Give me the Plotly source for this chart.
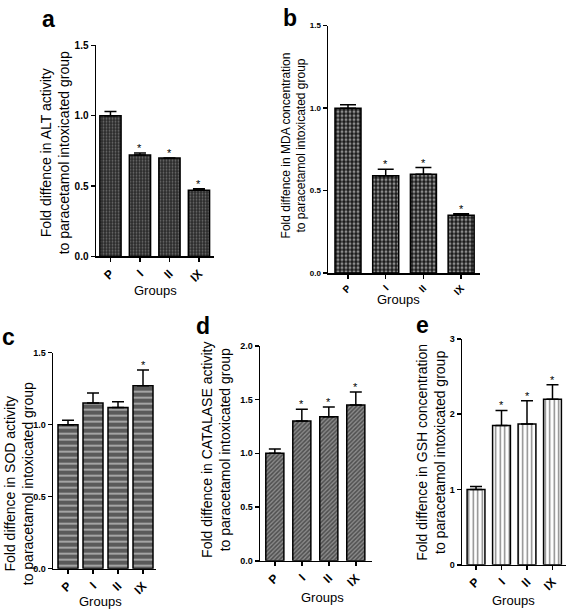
import plotly.graph_objects as go

groups = ["P", "I", "II", "IX"]

alt_vals = [1.00, 0.72, 0.70, 0.47]
alt_err = [0.03, 0.015, 0.0, 0.01]
alt_sig = ["", "*", "*", "*"]

mda_vals = [1.00, 0.59, 0.60, 0.35]
mda_err = [0.02, 0.04, 0.04, 0.01]
mda_sig = ["", "*", "*", "*"]

sod_vals = [1.00, 1.15, 1.12, 1.27]
sod_err = [0.03, 0.07, 0.04, 0.11]
sod_sig = ["", "", "", "*"]

cat_vals = [1.00, 1.30, 1.34, 1.45]
cat_err = [0.04, 0.11, 0.09, 0.12]
cat_sig = ["", "*", "*", "*"]

gsh_vals = [1.00, 1.85, 1.87, 2.20]
gsh_err = [0.04, 0.20, 0.31, 0.19]
gsh_sig = ["", "*", "*", "*"]

W, H = 566, 613
FONT = "Liberation Sans, Arial, sans-serif"

panels = [
    dict(key="", vals=alt_vals, err=alt_err, sig=alt_sig, letter="a",
         title="Fold diffence in ALT activity<br>to paracetamol intoxicated group",
         px=(96, 214), py=(255, 40), yr=(0, 1.5), xr=(-0.49, 3.51),
         tickvals=[0, 0.5, 1.0, 1.5], ticktext=["0.0", "0.5", "1.0", "1.5"],
         bw=0.72, color="#2a2a2a", pat=dict(shape=".", size=3, solidity=0.3, fgcolor="#b0b0b0"),
         tfs=10, ttl_x=55, ttl_y=150, ttl_fs=14, grp=(155, 290), let=(48, 13), capw=6, xfs=12),
    dict(key="2", vals=mda_vals, err=mda_err, sig=mda_sig, letter="b",
         title="Fold diffence in MDA concentration<br>to paracetamol intoxicated group",
         px=(328, 480), py=(272, 20), yr=(0, 1.5), xr=(-0.53, 3.5),
         tickvals=[0, 0.5, 1.0, 1.5], ticktext=["0.0", "0.5", "1.0", "1.5"],
         bw=0.69, color="#1a1a1a", pat=dict(shape=".", size=4, solidity=0.45, fgcolor="#ffffff"),
         tfs=8, ttl_x=294, ttl_y=142, ttl_fs=12, grp=(398, 299), let=(290, 12), capw=8, xfs=10),
    dict(key="3", vals=sod_vals, err=sod_err, sig=sod_sig, letter="c",
         title="Fold diffence in SOD activity<br>to paracetamol intoxicated group",
         px=(53, 156), py=(573, 353), yr=(0, 1.5), xr=(-0.6, 3.52),
         tickvals=[0, 0.5, 1.0, 1.5], ticktext=["0.0", "0.5", "1.0", "1.5"],
         bw=0.8, color="#5a5a5a", pat=dict(shape="-", size=6, solidity=0.3, fgcolor="#ffffff"),
         tfs=9, ttl_x=19, ttl_y=487, ttl_fs=14, grp=(100, 606), let=(8, 337), capw=6, xfs=12),
    dict(key="4", vals=cat_vals, err=cat_err, sig=cat_sig, letter="d",
         title="Fold diffence in CATALASE activity<br>to paracetamol intoxicated group",
         px=(260, 372), py=(565, 346), yr=(0, 2.0), xr=(-0.55, 3.6),
         tickvals=[0, 0.5, 1.0, 1.5, 2.0], ticktext=["0.0", "0.5", "1.0", "1.5", "2.0"],
         bw=0.67, color="#8a8a8a", pat=dict(shape="/", size=3, solidity=0.5, fgcolor="#111111"),
         tfs=9, ttl_x=216, ttl_y=452, ttl_fs=14, grp=(323, 602), let=(203, 326), capw=6, xfs=12),
    dict(key="5", vals=gsh_vals, err=gsh_err, sig=gsh_sig, letter="e",
         title="Fold diffence in GSH concentration<br>to paracetamol intoxicated group",
         px=(462, 566), py=(569, 339), yr=(0, 3), xr=(-0.55, 3.53),
         tickvals=[0, 1, 2, 3], ticktext=["0", "1", "2", "3"],
         bw=0.7, color="#ffffff", pat=dict(shape="|", size=4.5, solidity=0.3, fgcolor="#000000"),
         tfs=9, ttl_x=431, ttl_y=455, ttl_fs=14, grp=(513, 605), let=(422, 325), capw=6, xfs=12),
]

fig = go.Figure()
annotations = []
layout = {}

for p in panels:
    k = p["key"]
    xa = "x" + k
    ya = "y" + k
    fig.add_trace(go.Bar(
        x=list(range(len(groups))), y=p["vals"],
        xaxis=xa, yaxis=ya, width=p["bw"],
        marker=dict(color=p["color"], line=dict(color="black", width=1.5),
                    pattern=dict(fillmode="overlay", **p["pat"])),
        error_y=dict(type="data", symmetric=False, array=p["err"],
                     arrayminus=[0] * len(p["err"]), color="black",
                     thickness=1.5, width=p["capw"]),
        showlegend=False, hoverinfo="skip",
    ))
    x0, x1 = p["px"]
    y0, y1 = p["py"]
    layout["xaxis" + k] = dict(
        domain=[x0 / W, x1 / W], range=list(p["xr"]), anchor=ya,
        tickmode="array", tickvals=list(range(len(groups))), ticktext=groups,
        tickangle=-45, showline=True, linecolor="black", linewidth=1.5,
        ticks="outside", ticklen=4, tickcolor="black", tickwidth=1.5,
        showgrid=False, zeroline=False, fixedrange=True,
        tickfont=dict(family=FONT, size=p["xfs"], color="black", weight="bold"),
    )
    layout["yaxis" + k] = dict(
        domain=[1 - y0 / H, 1 - y1 / H], range=list(p["yr"]), anchor=xa,
        tickmode="array", tickvals=p["tickvals"], ticktext=p["ticktext"],
        showline=True, linecolor="black", linewidth=1.5,
        ticks="outside", ticklen=4, tickcolor="black", tickwidth=1.5,
        showgrid=False, zeroline=False, fixedrange=True,
        tickfont=dict(family=FONT, size=p["tfs"], color="black", weight="bold"),
    )
    for i, (v, e, s) in enumerate(zip(p["vals"], p["err"], p["sig"])):
        if s:
            annotations.append(dict(
                x=i, y=v + e, xref=xa, yref=ya, text=s, showarrow=False,
                yanchor="bottom", yshift=-3,
                font=dict(family=FONT, size=11, color="black")))
    annotations.append(dict(
        x=p["ttl_x"] / W, y=1 - p["ttl_y"] / H, xref="paper", yref="paper",
        text=p["title"], textangle=-90, showarrow=False,
        xanchor="center", yanchor="middle",
        font=dict(family=FONT, size=p["ttl_fs"], color="black")))
    annotations.append(dict(
        x=p["grp"][0] / W, y=1 - p["grp"][1] / H, xref="paper", yref="paper",
        text="Groups", showarrow=False, xanchor="center", yanchor="middle",
        font=dict(family=FONT, size=13, color="black")))
    annotations.append(dict(
        x=p["let"][0] / W, y=1 - p["let"][1] / H, xref="paper", yref="paper",
        text="<b>" + p["letter"] + "</b>", showarrow=False,
        xanchor="center", yanchor="middle",
        font=dict(family=FONT, size=23, color="black")))

fig.update_layout(
    width=W, height=H, margin=dict(l=0, r=0, t=0, b=0),
    paper_bgcolor="white", plot_bgcolor="rgba(0,0,0,0)",
    annotations=annotations, bargap=0, hovermode=False, **layout,
)

fig.write_html(
    "out.html",
    config={"displayModeBar": False, "staticPlot": True},
    post_script="document.body.style.margin='0';document.body.style.padding='0';document.body.style.overflow='hidden';",
)
